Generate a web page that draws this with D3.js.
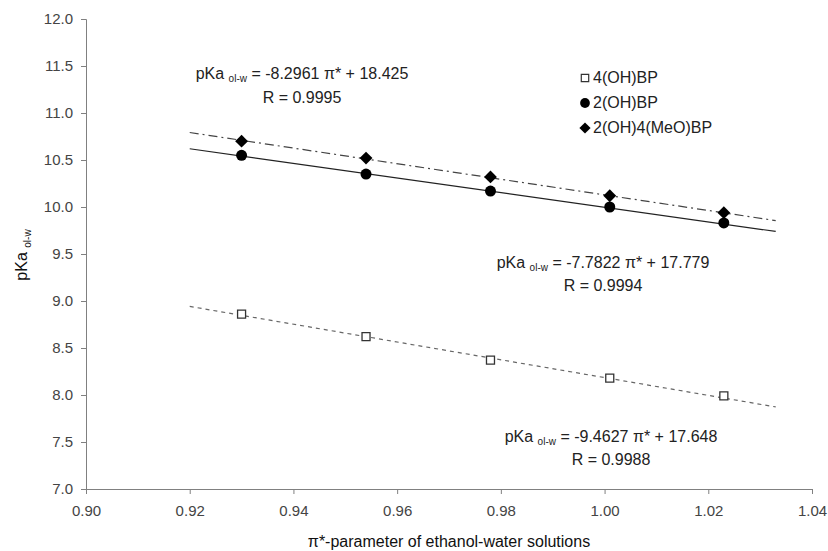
<!DOCTYPE html>
<html>
<head>
<meta charset="utf-8">
<script src="https://cdn.jsdelivr.net/npm/d3@7"></script>
<style>
  body { margin: 0; background: #fff; }
  text { font-family: "Liberation Sans", Arial, sans-serif; }
</style>
</head>
<body>
<svg id="chart" width="828" height="551"></svg>
<script>
// Data
const piStar = [0.930, 0.954, 0.978, 1.001, 1.023];
const pKa4OH = [8.86, 8.62, 8.37, 8.18, 7.99];
const pKa2OH = [10.55, 10.35, 10.17, 10.00, 9.83];
const pKa2OH4MeO = [10.70, 10.52, 10.32, 10.12, 9.94];

// Linear fits as printed on the chart (4(OH)BP, 2(OH)BP, 2(OH)4(MeO)BP)
const fitSlopes = [-9.4627, -7.7822, -8.2961];
const fitIntercepts = [17.648, 17.779, 18.425];
const fitR = ["0.9988", "0.9994", "0.9995"];
const fitRange = [0.92, 1.033];

const xTicks = [0.90, 0.92, 0.94, 0.96, 0.98, 1.00, 1.02, 1.04];
const yTicks = d3.range(7.0, 12.01, 0.5);

const width = 828;
const height = 551;
const margin = { top: 19, right: 16, bottom: 62, left: 86 };
const plotWidth = width - margin.left - margin.right;
const plotHeight = height - margin.top - margin.bottom;

const svg = d3.select("#chart");
const g = svg.append("g").attr("transform", `translate(${margin.left},${margin.top})`);

const x = d3.scaleLinear().domain([0.90, 1.04]).range([0, plotWidth]);
const y = d3.scaleLinear().domain([7.0, 12.0]).range([plotHeight, 0]);

// Axes
const xAxis = g.append("g")
  .attr("transform", `translate(0,${plotHeight})`)
  .call(d3.axisBottom(x).tickValues(xTicks).tickFormat(d3.format(".2f")).tickSizeOuter(0).tickSize(5).tickPadding(11));
const yAxis = g.append("g")
  .call(d3.axisLeft(y).tickValues(yTicks).tickFormat(d3.format(".1f")).tickSizeOuter(0).tickSize(5).tickPadding(8));

[xAxis, yAxis].forEach(a => {
  a.select(".domain").attr("stroke", "#808080");
  a.selectAll(".tick line").attr("stroke", "#808080");
  a.selectAll(".tick text").attr("fill", "#444").style("font-size", "15px");
});

// Regression lines
const seriesStyles = [
  { dash: "4,4", color: "#666", width: 1.2 },
  { dash: null, color: "#222", width: 1.2 },
  { dash: "9,4,2,4", color: "#444", width: 1.2 },
];
fitSlopes.forEach((s, i) => {
  const pts = fitRange.map(v => [v, s * v + fitIntercepts[i]]);
  g.append("path")
    .attr("d", d3.line().x(d => x(d[0])).y(d => y(d[1]))(pts))
    .attr("fill", "none")
    .attr("stroke", seriesStyles[i].color)
    .attr("stroke-width", seriesStyles[i].width)
    .attr("stroke-dasharray", seriesStyles[i].dash);
});

// Markers
const squareSym = d3.symbol().type(d3.symbolSquare).size(64);
const circleSym = d3.symbol().type(d3.symbolCircle).size(95);
const diamondSym = d3.symbol().type(d3.symbolDiamond2).size(105);

g.selectAll(".sq").data(piStar).enter().append("path")
  .attr("d", squareSym)
  .attr("transform", (d, i) => `translate(${x(d)},${y(pKa4OH[i])})`)
  .attr("fill", "#fff").attr("stroke", "#333").attr("stroke-width", 1.3);

g.selectAll(".ci").data(piStar).enter().append("path")
  .attr("d", circleSym)
  .attr("transform", (d, i) => `translate(${x(d)},${y(pKa2OH[i])})`)
  .attr("fill", "#000");

g.selectAll(".di").data(piStar).enter().append("path")
  .attr("d", diamondSym)
  .attr("transform", (d, i) => `translate(${x(d)},${y(pKa2OH4MeO[i])})`)
  .attr("fill", "#000");

// Equation annotations
const eqPos = [
  { cx: 611, y1: 442, y2: 465 },
  { cx: 603, y1: 268, y2: 291 },
  { cx: 302, y1: 79, y2: 103 },
];
fitSlopes.forEach((s, i) => {
  const t = svg.append("text")
    .attr("x", eqPos[i].cx).attr("y", eqPos[i].y1)
    .attr("text-anchor", "middle")
    .style("font-size", "16px").attr("fill", "#222");
  t.append("tspan").text("pKa ");
  t.append("tspan").attr("dy", 3).style("font-size", "10px").text("ol-w");
  t.append("tspan").attr("dy", -3).text(` = ${s} \u03c0* + ${fitIntercepts[i]}`);
  svg.append("text")
    .attr("x", eqPos[i].cx).attr("y", eqPos[i].y2)
    .attr("text-anchor", "middle")
    .style("font-size", "16px").attr("fill", "#222")
    .text(`R = ${fitR[i]}`);
});

// Legend
const legendNames = ["4(OH)BP", "2(OH)BP", "2(OH)4(MeO)BP"];
const legendSyms = [squareSym, circleSym, diamondSym];
const legendSizes = [55, 75, 80];
const legend = svg.append("g").attr("transform", "translate(585,78)");
legendNames.forEach((n, i) => {
  const row = legend.append("g").attr("transform", `translate(0,${i * 25})`);
  const m = row.append("path").attr("d", legendSyms[i].size(legendSizes[i])());
  if (i === 0) m.attr("fill", "#fff").attr("stroke", "#333").attr("stroke-width", 1.2);
  else m.attr("fill", "#000");
  row.append("text").attr("x", 8).attr("y", 5)
    .style("font-size", "16px").attr("fill", "#222").text(n);
});

// Axis titles
const yl = svg.append("text")
  .attr("transform", "translate(27,255) rotate(-90)")
  .attr("text-anchor", "middle")
  .style("font-size", "16px").attr("fill", "#111");
yl.append("tspan").text("pKa ");
yl.append("tspan").attr("dy", 4).style("font-size", "10px").text("ol-w");

svg.append("text")
  .attr("x", margin.left + plotWidth / 2).attr("y", 547)
  .attr("text-anchor", "middle")
  .style("font-size", "16px").attr("fill", "#111")
  .text("\u03c0*-parameter of ethanol-water solutions");
</script>
</body>
</html>
